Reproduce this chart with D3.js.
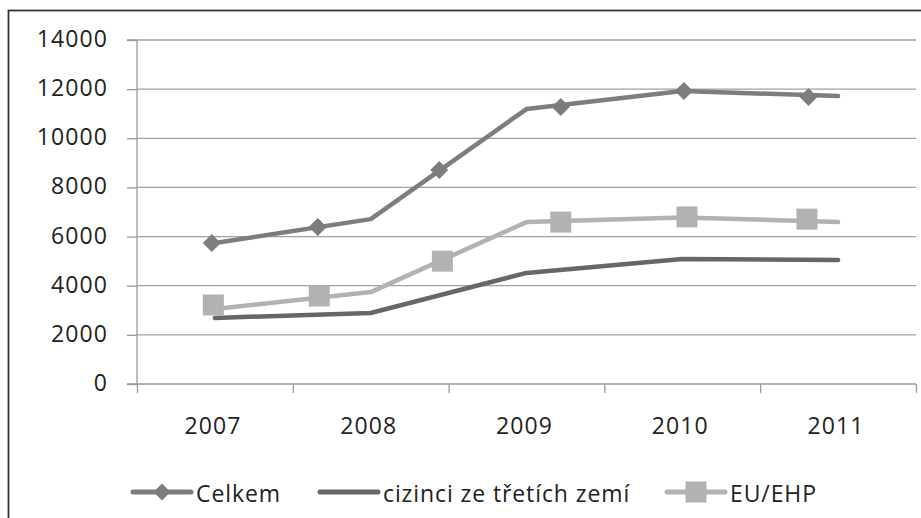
<!DOCTYPE html>
<html>
<head>
<meta charset="utf-8">
<script src="https://cdn.jsdelivr.net/npm/d3@7"></script>
<style>
  body { margin: 0; background: white; }
  text { font-family: "Open Sans", sans-serif; fill: #222; }
</style>
</head>
<body>
<div id="wrapper"></div>
<script>
// categories and series
var years = ["2007", "2008", "2009", "2010", "2011"];
var celkem = [5740, 6710, 11190, 11925, 11720];
var cizinci = [2690, 2890, 4520, 5090, 5050];
var euEhp = [3050, 3740, 6590, 6780, 6590];

// markers in the picture sit at odd positions along the lines (category index units)
var celkemMarkerPos = [-0.02, 0.66, 1.44, 2.22, 3.01, 3.81];
var celkemMarkerVal = [5740, 6390, 8710, 11270, 11925, 11680];
var euMarkerPos = [-0.01, 0.67, 1.46, 2.22, 3.03, 3.80];
var euMarkerVal = [3215, 3580, 5000, 6590, 6800, 6710];

var yTicks = [0, 2000, 4000, 6000, 8000, 10000, 12000, 14000];

var legendNames = ["Celkem", "cizinci ze třetích zemí", "EU/EHP"];

function create(){
    const dimension = {
        width: 921,
        height: 518,
        margin: { top: 40, right: 5, bottom: 134, left: 137 }
    };
    dimension.boundedWidth  = dimension.width  - dimension.margin.right - dimension.margin.left;
    dimension.boundedHeight = dimension.height - dimension.margin.top   - dimension.margin.bottom;

    const colCelkem = "#7d7d7d", colCiz = "#676767", colEu = "#b2b2b2";

    const svg = d3.select("#wrapper")
        .append("svg")
        .attr("width", dimension.width)
        .attr("height", dimension.height);

    // outer frame
    svg.append("rect")
        .attr("x", 8.5).attr("y", 10.5)
        .attr("width", 1000).attr("height", 1000)
        .attr("fill", "none").attr("stroke", "#333").attr("stroke-width", 1.8);

    const g = svg.append("g")
        .attr("transform", "translate(" + dimension.margin.left + "," + dimension.margin.top + ")");

    var x = d3.scaleLinear()
        .domain([-0.5, years.length - 0.5])
        .range([0, dimension.boundedWidth]);

    var y = d3.scaleLinear()
        .domain([0, 14000])
        .range([dimension.boundedHeight, 0]);

    // gridlines
    g.append("g")
        .selectAll("line")
        .data(yTicks.slice(1))
        .enter()
        .append("line")
        .attr("x1", 0).attr("x2", dimension.boundedWidth)
        .attr("y1", d => y(d)).attr("y2", d => y(d))
        .attr("stroke", "#a0a0a0").attr("stroke-width", 1.3);

    // Y axis
    var yAxis = g.append("g")
        .call(d3.axisLeft(y).tickValues(yTicks).tickSize(10).tickPadding(19).tickFormat(d3.format("d")));
    yAxis.selectAll("line, path").attr("stroke", "#999").attr("stroke-width", 1.3);
    yAxis.select(".domain").attr("d", "M-10," + y(14000) + "H0V" + y(0) + "H-10");
    yAxis.selectAll("text")
        .style("font-family", "'Open Sans', sans-serif")
        .style("font-size", "23px")
        .attr("letter-spacing", "1.1px")
        .attr("dy", "0.28em")
        .attr("fill", "#222");

    // X axis (ticks between categories)
    var boundaries = d3.range(-0.5, years.length, 1);
    var xAxis = g.append("g")
        .attr("transform", "translate(0," + dimension.boundedHeight + ")")
        .call(d3.axisBottom(x).tickValues(boundaries).tickSize(9).tickFormat(""));
    xAxis.selectAll("line, path").attr("stroke", "#999").attr("stroke-width", 1.3);
    xAxis.select(".domain").attr("d", "M0,0H" + dimension.boundedWidth);

    g.append("g")
        .selectAll("text")
        .data(years)
        .enter()
        .append("text")
        .attr("x", (d, i) => x(i) - 2)
        .attr("y", dimension.boundedHeight + 50)
        .attr("text-anchor", "middle")
        .attr("letter-spacing", "1.1px")
        .style("font-size", "23px")
        .text(d => d);

    var line = d3.line()
        .x((d, i) => x(i))
        .y(d => y(d));

    function drawLine(values, colour){
        g.append("path")
            .datum(values)
            .attr("d", line)
            .attr("fill", "none")
            .attr("stroke", colour)
            .attr("stroke-width", 4.5)
            .attr("stroke-linejoin", "round")
            .attr("stroke-linecap", "round");
    }

    var diamond = "M0,-9L9,0L0,9L-9,0Z";

    // Celkem
    drawLine(celkem, colCelkem);
    g.append("g")
        .selectAll("path")
        .data(celkemMarkerPos)
        .enter()
        .append("path")
        .attr("d", diamond)
        .attr("transform", (d, i) => "translate(" + x(d) + "," + y(celkemMarkerVal[i]) + ")")
        .attr("fill", colCelkem);

    // cizinci ze tretich zemi
    drawLine(cizinci, colCiz);

    // EU/EHP
    drawLine(euEhp, colEu);
    g.append("g")
        .selectAll("rect")
        .data(euMarkerPos)
        .enter()
        .append("rect")
        .attr("x", d => x(d) - 10.5)
        .attr("y", (d, i) => y(euMarkerVal[i]) - 10.5)
        .attr("width", 21).attr("height", 21)
        .attr("fill", colEu);

    // legend
    var legendX = [133, 320, 667];
    var legendCol = [colCelkem, colCiz, colEu];
    var ly = 492;
    var leg = svg.append("g");
    legendNames.forEach(function(name, i){
        leg.append("line")
            .attr("x1", legendX[i]).attr("x2", legendX[i] + 58)
            .attr("y1", ly).attr("y2", ly)
            .attr("stroke", legendCol[i]).attr("stroke-width", 5)
            .attr("stroke-linecap", "round");
        if (i === 0) {
            leg.append("path")
                .attr("d", "M0,-8.5L8.5,0L0,8.5L-8.5,0Z")
                .attr("transform", "translate(" + (legendX[i] + 29) + "," + ly + ")")
                .attr("fill", legendCol[i]);
        }
        if (i === 2) {
            leg.append("rect")
                .attr("x", legendX[i] + 29 - 10.5).attr("y", ly - 10.5)
                .attr("width", 21).attr("height", 21)
                .attr("fill", legendCol[i]);
        }
        leg.append("text")
            .attr("x", legendX[i] + 63)
            .attr("y", ly + 10)
            .attr("letter-spacing", "0.9px")
            .style("font-size", "23px")
            .text(name);
    });
}
create();
</script>
</body>
</html>
